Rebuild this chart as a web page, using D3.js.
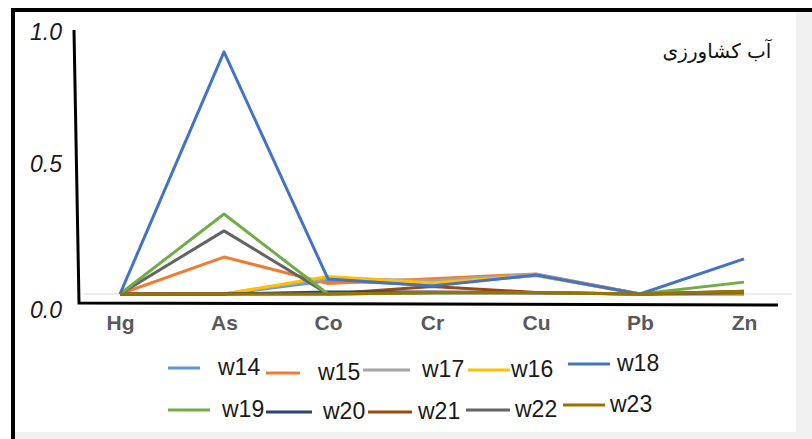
<!DOCTYPE html>
<html><head><meta charset="utf-8">
<script src="https://cdn.jsdelivr.net/npm/d3@7"></script>
<style>body{margin:0;background:#fff}svg{display:block}</style>
</head><body>
<svg id="c" width="812" height="439"></svg>
<script>
const categories = ["Hg","As","Co","Cr","Cu","Pb","Zn"];
const seriesNames = ["w14","w15","w17","w16","w18","w19","w20","w21","w22","w23"];
const seriesColors = ["#5B9BD5","#ED7D31","#A5A5A5","#FFC000","#4472C4","#70AD47","#264478","#9E480E","#636363","#997300"];
const w14 = [0, 0, 0.05, 0.035, 0.07, 0, 0];
const w15 = [0, 0.14, 0.04, 0.058, 0.076, 0, 0];
const w17 = [0, 0, 0.06, 0.05, 0.075, 0, 0];
const w16 = [0, 0, 0.066, 0.042, 0.07, 0, 0];
const w18 = [0, 0.917, 0.057, 0.03, 0.072, 0, 0.133];
const w19 = [0, 0.303, 0, 0.005, 0.005, 0, 0.045];
const w20 = [0, 0, 0.008, 0.008, 0.005, 0, 0.008];
const w21 = [0, 0, 0, 0.028, 0.006, 0, 0.01];
const w22 = [0, 0.239, 0, 0.004, 0.004, 0, 0.004];
const w23 = [0, 0, 0, 0.006, 0.006, 0, 0.01];
const seriesValues = [w14,w15,w17,w16,w18,w19,w20,w21,w22,w23];
const yTicks = [0, 0.5, 1.0];
const drawOrder = ["w14","w15","w17","w16","w21","w20","w22","w19","w18","w23"];

const svg = d3.select("#c");
// frame
svg.append("rect").attr("x",796).attr("y",12).attr("width",16).attr("height",427).attr("fill","#f1f1f1");
svg.append("rect").attr("x",14).attr("y",432).attr("width",798).attr("height",7).attr("fill","#f1f1f1");
svg.append("line").attr("x1",12).attr("x2",812).attr("y1",10).attr("y2",10).attr("stroke","#000").attr("stroke-width",4);
svg.append("line").attr("x1",13).attr("x2",13).attr("y1",8).attr("y2",439).attr("stroke","#000").attr("stroke-width",4);

const x = d3.scalePoint().domain(categories).range([120, 744]);
const y = d3.scaleLinear().domain([0,1]).range([294, 30]);

// zero gridline
svg.append("line").attr("x1",84).attr("x2",792).attr("y1",y(0)).attr("y2",y(0)).attr("stroke","#d9d9d9").attr("stroke-width",1);

// axes lines
svg.append("path").attr("d",`M74,${y(1)} L79,303 L778,305`).attr("fill","none").attr("stroke","#000").attr("stroke-width",3);

// y tick labels
const yAxis = d3.axisLeft(y).tickValues(yTicks).tickFormat(d3.format(".1f")).tickSize(0).tickPadding(8);
const ga = svg.append("g").attr("transform","translate(70,0)").call(yAxis);
ga.select(".domain").remove();
ga.selectAll("text").attr("font-family","'Liberation Sans', Arial, sans-serif").attr("font-style","italic")
  .attr("font-size",23).attr("fill","#1a1a1a")
  .attr("dy", d => d === 0 ? "1.0em" : "0.42em");

// x labels
const xAxis = d3.axisBottom(x).tickSize(0).tickPadding(0);
const gx = svg.append("g").attr("transform","translate(0,315)").call(xAxis);
gx.select(".domain").remove();
gx.selectAll("text").attr("font-family","'Liberation Sans Narrow','Liberation Sans',Arial,sans-serif")
  .attr("font-weight","bold").attr("font-size",21).attr("fill","#595959");

// lines
const line = d3.line().x((d,i)=>x(categories[i])).y(d=>y(d));
drawOrder.forEach(name => {
  const i = seriesNames.indexOf(name);
  svg.append("path").datum(seriesValues[i]).attr("d",line)
    .attr("fill","none").attr("stroke",seriesColors[i]).attr("stroke-width",3)
    .attr("stroke-linejoin","round");
});

// legend
const legPos = [
  [168,200,218,367],[266,300,318,372],[363,410,422,369],[468,510,511,369],[568,610,617,363],
  [168,210,222,409],[266,312,323,411],[368,412,418,411],[466,510,515,409],[563,605,610,404]
];
seriesNames.forEach((n,i) => {
  const p = legPos[i];
  svg.append("line").attr("x1",p[0]).attr("x2",p[1]).attr("y1",p[3]+1).attr("y2",p[3]+1)
    .attr("stroke",seriesColors[i]).attr("stroke-width",3);
  svg.append("text").attr("x",p[2]).attr("y",p[3]).attr("dy","0.35em").text(n)
    .attr("font-family","'Liberation Sans', Arial, sans-serif").attr("font-size",23).attr("fill","#1a1a1a");
});

// title
svg.append("text").attr("x",717).attr("y",58).attr("text-anchor","middle")
  .attr("font-family","'DejaVu Sans', sans-serif").attr("font-size",20).attr("fill","#111")
  .text("آب کشاورزی");
</script>
</body></html>
